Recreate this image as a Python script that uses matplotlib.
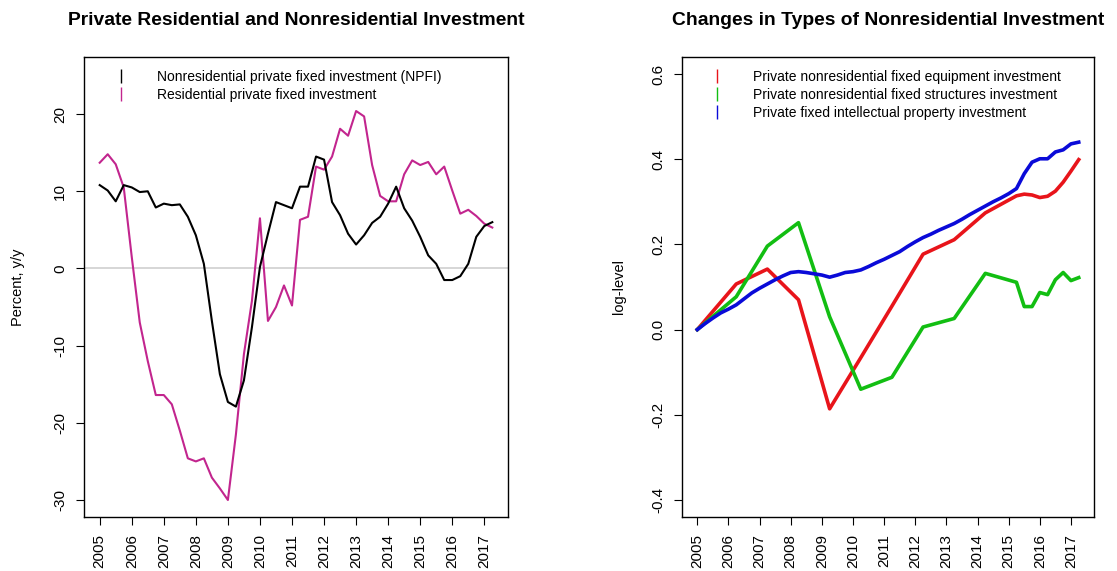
"""
Private residential / nonresidential investment: two side by side panels.
"""

import numpy as np
import matplotlib
matplotlib.use("Agg")
import matplotlib.pyplot as plt
from matplotlib.lines import Line2D

plt.rcParams['font.family'] = ['Liberation Sans', 'DejaVu Sans']
plt.rcParams['axes.unicode_minus'] = False

# left panel: quarterly y/y growth, 2005Q1 .. 2017Q2
quarters = 2005 + 0.25 * np.arange(50)

npfi = [10.8, 10.1, 8.7, 10.8, 10.5, 9.9, 10.0, 7.9, 8.4, 8.2,
        8.3, 6.7, 4.3, 0.6, -6.8, -13.7, -17.3, -17.9, -14.5, -7.6,
        0.2, 4.5, 8.6, 8.2, 7.8, 10.6, 10.6, 14.5, 14.1, 8.6,
        6.9, 4.5, 3.1, 4.3, 5.9, 6.7, 8.4, 10.6, 7.8, 6.2,
        4.1, 1.7, 0.6, -1.5, -1.5, -1.0, 0.6, 4.1, 5.5, 6.0]

residential = [13.7, 14.8, 13.5, 10.5, 1.5, -7.0, -12.0, -16.4, -16.4, -17.6,
               -21.0, -24.6, -25.0, -24.6, -27.1, -28.5, -30.0, -21.5, -11.1, -4.2,
               6.5, -6.8, -5.0, -2.2, -4.8, 6.3, 6.7, 13.2, 12.8, 14.5,
               18.1, 17.2, 20.4, 19.7, 13.4, 9.4, 8.7, 8.7, 12.2, 14.0,
               13.4, 13.8, 12.2, 13.2, 10.1, 7.1, 7.6, 6.8, 5.8, 5.3]

# right panel: log-levels relative to 2005
equip_t = [2005.0, 2006.25, 2007.25, 2008.25, 2009.25, 2010.25, 2011.25,
           2012.25, 2013.25, 2014.25, 2015.25, 2015.5, 2015.75, 2016.0,
           2016.25, 2016.5, 2016.75, 2017.0, 2017.25]
equipment = [0.0, 0.107, 0.142, 0.070, -0.186, -0.066, 0.055,
             0.177, 0.211, 0.274, 0.314, 0.318, 0.316, 0.310,
             0.313, 0.325, 0.346, 0.372, 0.399]

struct_t = equip_t
structures = [0.0, 0.077, 0.196, 0.251, 0.030, -0.140, -0.112,
              0.006, 0.026, 0.132, 0.111, 0.054, 0.054, 0.087,
              0.082, 0.117, 0.134, 0.115, 0.122]

ip_t = quarters
intellectual = [0.000, 0.014, 0.027, 0.039, 0.048, 0.058, 0.072, 0.086, 0.097, 0.107,
                0.117, 0.126, 0.134, 0.136, 0.134, 0.131, 0.128, 0.123, 0.128, 0.134,
                0.136, 0.140, 0.148, 0.157, 0.165, 0.174, 0.183, 0.195, 0.206, 0.216,
                0.224, 0.233, 0.241, 0.249, 0.259, 0.270, 0.280, 0.290, 0.300, 0.309,
                0.319, 0.331, 0.366, 0.393, 0.401, 0.401, 0.417, 0.422, 0.436, 0.440]

years = list(range(2005, 2018))

MAGENTA = '#C2258E'
RED = '#E8141A'
GREEN = '#12BE12'
BLUE = '#0A0AD8'


def style_axes(ax):
    ax.set_xlim(2004.51, 2017.74)
    ax.set_xticks(years)
    ax.set_xticklabels([str(y) for y in years], rotation=90)
    ax.tick_params(axis='x', direction='out', length=6, width=0.8, pad=6, labelsize=11)
    ax.tick_params(axis='y', direction='out', length=6, width=0.8, pad=6, labelsize=11,
                   labelrotation=90)
    for s in ax.spines.values():
        s.set_linewidth(1.0)
    for lab in ax.get_yticklabels():
        lab.set_verticalalignment('center')


fig = plt.figure(figsize=(11.17, 5.71), dpi=100)
ax1 = fig.add_axes([0.0752, 0.0946, 0.3796, 0.8056])
ax2 = fig.add_axes([0.6106, 0.0946, 0.3688, 0.8056])

# left
ax1.axhline(0, color='#D3D3D3', lw=1.3, zorder=1)
ax1.plot(quarters, npfi, color='black', lw=1.5, zorder=3)
ax1.plot(quarters, residential, color=MAGENTA, lw=1.5, zorder=2)
ax1.set_ylim(-32.2, 27.4)
ax1.set_yticks([-30, -20, -10, 0, 10, 20])
ax1.set_yticklabels(['-30', '-20', '-10', '0', '10', '20'])
style_axes(ax1)
ax1.set_ylabel('Percent, y/y', fontsize=10.5)
ax1.yaxis.set_label_coords(-0.14, 0.5)
ax1.set_title('Private Residential and Nonresidential Investment',
              fontsize=13.9, fontweight='bold', pad=23)

h1 = [Line2D([], [], color='black', marker='|', linestyle='None', markersize=10, markeredgewidth=1),
      Line2D([], [], color=MAGENTA, marker='|', linestyle='None', markersize=10, markeredgewidth=1)]
ax1.legend(h1, ['Nonresidential private fixed investment (NPFI)',
                'Residential private fixed investment'],
           loc='upper left', bbox_to_anchor=(0.055, 0.972), frameon=False,
           fontsize=10, handlelength=2, handletextpad=1.6, labelspacing=0.3,
           borderpad=0, borderaxespad=0)

# right
ax2.plot(equip_t, equipment, color=RED, lw=2.6)
ax2.plot(struct_t, structures, color=GREEN, lw=2.6)
ax2.plot(ip_t, intellectual, color=BLUE, lw=2.6)
ax2.set_ylim(-0.44, 0.64)
yt = [-0.4, -0.2, 0.0, 0.2, 0.4, 0.6]
ax2.set_yticks(yt)
ax2.set_yticklabels(['%.1f' % v for v in yt])
style_axes(ax2)
ax2.set_ylabel('log-level', fontsize=10.5)
ax2.yaxis.set_label_coords(-0.135, 0.5)
ax2.set_title('Changes in Types of Nonresidential Investment',
              fontsize=13.9, fontweight='bold', pad=23)

h2 = [Line2D([], [], color=c, marker='|', linestyle='None', markersize=10, markeredgewidth=1)
      for c in (RED, GREEN, BLUE)]
ax2.legend(h2, ['Private nonresidential fixed equipment investment',
                'Private nonresidential fixed structures investment',
                'Private fixed intellectual property investment'],
           loc='upper left', bbox_to_anchor=(0.052, 0.972), frameon=False,
           fontsize=10, handlelength=2, handletextpad=1.6, labelspacing=0.3,
           borderpad=0, borderaxespad=0)

fig.savefig('out.png', dpi=100)
